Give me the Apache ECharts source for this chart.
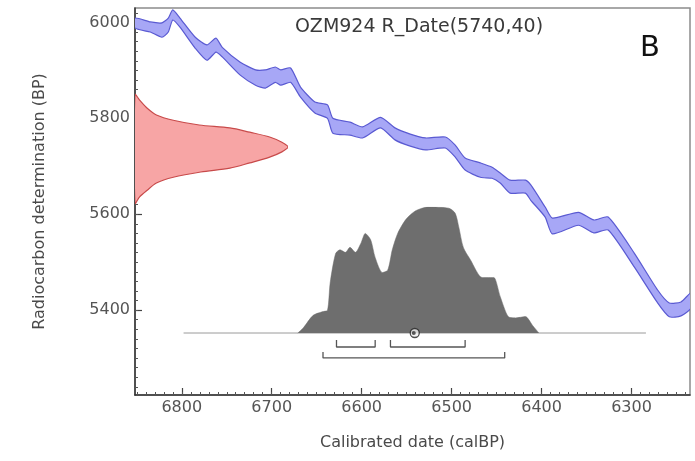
<!DOCTYPE html>
<html><head><meta charset="utf-8">
<script src="https://cdn.jsdelivr.net/npm/echarts@6/dist/echarts.min.js"></script>
<style>html,body{margin:0;padding:0;background:#fff}#c{width:695px;height:461px}</style>
</head><body><div id="c"></div>
<script>
// Calibration curve (calBP) with upper / lower 1-sigma envelope (BP)
const calCurveX = [6852, 6835, 6822, 6815, 6810, 6802, 6785, 6772, 6762, 6755, 6735, 6718, 6707, 6696, 6690, 6679, 6668, 6652, 6638, 6632, 6613, 6599, 6579, 6563, 6546, 6529, 6507, 6496, 6485, 6468, 6455, 6446, 6435, 6418, 6412, 6396, 6388, 6359, 6342, 6326, 6297, 6271, 6258, 6245, 6234];
const calCurveUpper = [6009, 6001, 5999, 6009, 6026, 6009, 5969, 5953, 5967, 5948, 5917, 5901, 5901, 5907, 5901, 5905, 5865, 5834, 5828, 5800, 5792, 5782, 5802, 5780, 5767, 5759, 5761, 5744, 5717, 5707, 5698, 5686, 5671, 5671, 5661, 5615, 5592, 5604, 5588, 5594, 5519, 5442, 5415, 5417, 5436];
const calCurveLower = [5988, 5980, 5969, 5980, 6005, 5990, 5946, 5921, 5938, 5928, 5890, 5869, 5863, 5875, 5869, 5875, 5844, 5811, 5800, 5769, 5765, 5759, 5780, 5755, 5742, 5734, 5738, 5719, 5692, 5677, 5675, 5665, 5644, 5644, 5629, 5594, 5559, 5577, 5561, 5567, 5490, 5415, 5386, 5388, 5404];

// Radiocarbon date distribution R_Date(5740,40): BP vs relative probability
const dateBP   = [5849, 5838, 5821, 5807, 5796, 5786, 5780, 5771, 5761, 5750, 5740, 5730, 5719, 5707, 5696, 5688, 5677, 5665, 5650, 5636, 5623];
const dateProb = [0, 0.03, 0.08, 0.14, 0.25, 0.42, 0.62, 0.75, 0.88, 0.96, 1.0, 0.96, 0.88, 0.75, 0.62, 0.43, 0.25, 0.14, 0.08, 0.03, 0];

// Calibrated distribution: calBP vs relative probability
const histCal  = [6671, 6665, 6654, 6643, 6638, 6635, 6629, 6624, 6618, 6613, 6607, 6601, 6596, 6590, 6585, 6577, 6571, 6566, 6560, 6551, 6540, 6526, 6503, 6496, 6492, 6487, 6479, 6466, 6457, 6453, 6446, 6437, 6429, 6418, 6410, 6403];
const histProb = [0, 0.04, 0.14, 0.17, 0.18, 0.40, 0.63, 0.66, 0.64, 0.68, 0.64, 0.71, 0.79, 0.74, 0.60, 0.48, 0.50, 0.66, 0.79, 0.90, 0.97, 1.00, 0.99, 0.95, 0.84, 0.68, 0.58, 0.44, 0.44, 0.44, 0.29, 0.13, 0.12, 0.13, 0.06, 0];
const baselineRange = [6798, 6284];

// Highest posterior density ranges (calBP)
const range68 = [[6628, 6585], [6568, 6485]];
const range95 = [[6643, 6441]];
const meanCal = 6541;

// Axes
const xMajor = [6300, 6400, 6500, 6600, 6700, 6800];
const yMajor = [5400, 5600, 5800, 6000];
const xMinor = []; for (let v = 6240; v <= 6850; v += 10) xMinor.push(v);
const yMinor = []; for (let v = 5240; v <= 6020; v += 20) yMinor.push(v);
const X_MIN = 6235, X_MAX = 6852, Y_MIN = 5223, Y_MAX = 6030;

const titleText = 'OZM924 R_Date(5740,40)';
const panelLabel = 'B';

const FONT = 'DejaVu Sans';
const chart = echarts.init(document.getElementById('c'), null, {renderer: 'canvas'});

function polygon(points, xi, yi, fill, stroke, z, smooth) {
  return {
    type: 'custom', xAxisIndex: xi, yAxisIndex: yi, z: z, clip: true, silent: true,
    data: [[points[0][0], points[0][1]]],
    renderItem: function (params, api) {
      return {type: 'polygon', shape: {points: points.map(p => api.coord(p)), smooth: smooth || 0},
        style: {fill: fill, stroke: stroke, lineWidth: 1.2}};
    }
  };
}

const bandPts = calCurveX.map((x, i) => [x, calCurveUpper[i]])
  .concat(calCurveX.map((x, i) => [x, calCurveLower[i]]).reverse());
const redPts = dateBP.map((b, i) => [dateProb[i], b]);

function bracket(r, yLine, yTop) {
  return {type: 'line', xAxisIndex: 2, yAxisIndex: 2, symbol: 'none', silent: true, z: 5,
    lineStyle: {color: '#555', width: 1.3},
    data: [[r[0], yTop], [r[0], yLine], [r[1], yLine], [r[1], yTop]]};
}

const series = [
  polygon(redPts, 3, 3, '#f7a5a5', '#c84a4a', 2, 0.3),
  polygon(bandPts, 0, 0, '#a7a7f6', '#5a5ad2', 3, 0.2),
  {type: 'line', xAxisIndex: 2, yAxisIndex: 2, symbol: 'none', silent: true, z: 3,
    lineStyle: {color: '#9a9a9a', width: 1},
    data: [[baselineRange[0], 0], [baselineRange[1], 0]]},
  {type: 'line', xAxisIndex: 2, yAxisIndex: 2, symbol: 'none', silent: true, z: 4, smooth: 0.25,
    lineStyle: {color: '#6e6e6e', width: 0.5}, areaStyle: {color: '#6e6e6e', opacity: 1, origin: 0},
    data: histCal.map((c, i) => [c, histProb[i]])},
  {type: 'scatter', xAxisIndex: 2, yAxisIndex: 2, symbol: 'circle', symbolSize: 9, silent: true, z: 6,
    itemStyle: {color: '#f0f0f0', borderColor: '#222', borderWidth: 1.3},
    data: [[meanCal, 0]]},
  {type: 'scatter', xAxisIndex: 2, yAxisIndex: 2, symbol: 'circle', symbolSize: 4, silent: true, z: 7,
    symbolOffset: [-1, 0], itemStyle: {color: '#333'},
    data: [[meanCal, 0]]}
];
range68.forEach(r => series.push(bracket(r, -0.111, -0.056)));
range95.forEach(r => series.push(bracket(r, -0.198, -0.151)));

const labelStyle = {color: '#555', fontSize: 16, fontFamily: FONT, formatter: v => String(v)};

chart.setOption({
  animation: false,
  backgroundColor: '#fff',
  title: {text: titleText, left: 414, top: 13, textAlign: 'center',
    textStyle: {color: '#3a3a3a', fontSize: 19, fontWeight: 'normal', fontFamily: FONT}},
  graphic: [{type: 'text', left: 640, top: 34, z: 10,
    style: {text: panelLabel, fontSize: 29, fill: '#111', fontFamily: FONT}}],
  grid: [
    {left: 135, right: 5, top: 8, bottom: 66, show: true, borderColor: '#8c8c8c', borderWidth: 1.5, backgroundColor: 'transparent'},
    {left: 135, right: 5, top: 207, bottom: 66},
    {left: 135, width: 153, top: 8, bottom: 66}
  ],
  xAxis: [
    {type: 'value', gridIndex: 0, min: X_MIN, max: X_MAX, inverse: true, position: 'bottom',
      name: 'Calibrated date (calBP)', nameLocation: 'middle', nameGap: 40,
      nameTextStyle: {color: '#4a4a4a', fontSize: 16, fontFamily: FONT},
      axisLine: {show: true, lineStyle: {color: '#333', width: 1.5}},
      axisTick: {show: true, inside: true, length: 7, customValues: xMajor, lineStyle: {color: '#444', width: 1.2}},
      axisLabel: Object.assign({customValues: xMajor, margin: 5}, labelStyle),
      splitLine: {show: false}},
    {type: 'value', gridIndex: 0, min: X_MIN, max: X_MAX, inverse: true, position: 'bottom',
      axisLine: {show: false}, axisLabel: {show: false}, splitLine: {show: false},
      axisTick: {show: true, inside: true, length: 3, customValues: xMinor, lineStyle: {color: '#555', width: 1}}},
    {type: 'value', gridIndex: 1, min: X_MIN, max: X_MAX, inverse: true, show: false},
    {type: 'value', gridIndex: 2, min: 0, max: 1, show: false}
  ],
  yAxis: [
    {type: 'value', gridIndex: 0, min: Y_MIN, max: Y_MAX, position: 'left',
      name: 'Radiocarbon determination (BP)', nameLocation: 'middle', nameGap: 87, nameRotate: 90,
      nameTextStyle: {color: '#4a4a4a', fontSize: 16, fontFamily: FONT},
      axisLine: {show: true, lineStyle: {color: '#333', width: 1.5}},
      axisTick: {show: true, inside: true, length: 7, customValues: yMajor, lineStyle: {color: '#444', width: 1.2}},
      axisLabel: Object.assign({customValues: yMajor, margin: 5}, labelStyle),
      splitLine: {show: false}},
    {type: 'value', gridIndex: 0, min: Y_MIN, max: Y_MAX, position: 'left',
      axisLine: {show: false}, axisLabel: {show: false}, splitLine: {show: false},
      axisTick: {show: true, inside: true, length: 3, customValues: yMinor, lineStyle: {color: '#555', width: 1}}},
    {type: 'value', gridIndex: 1, min: -0.492, max: 1, show: false},
    {type: 'value', gridIndex: 2, min: Y_MIN, max: Y_MAX, show: false}
  ],
  series: series
});
</script></body></html>
